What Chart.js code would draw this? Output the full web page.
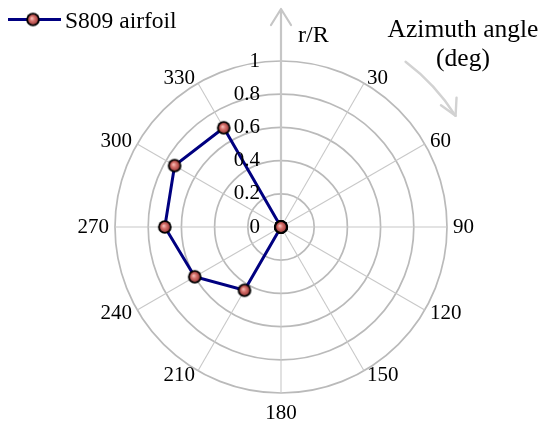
<!DOCTYPE html>
<html>
<head>
<meta charset="utf-8">
<script src="https://cdn.jsdelivr.net/npm/chart.js@4.4.1/dist/chart.umd.min.js"></script>
<style>
  html, body { margin: 0; padding: 0; background: #fff; }
  canvas { display: block; }
</style>
</head>
<body>
<canvas id="polarChart" width="542" height="425"></canvas>
<script>
// --- DATA ---
const angleLabels = ['0', '30', '60', '90', '120', '150', '180', '210', '240', '270', '300', '330'];
const radiusValues = [0, 0, 0, 0, 0, 0, 0, 0.44, 0.60, 0.70, 0.74, 0.69];
const radialTicks = [0, 0.2, 0.4, 0.6, 0.8, 1];
const radialTickLabels = ['0', '0.2', '0.4', '0.6', '0.8', '1'];
const seriesName = 'S809 airfoil';

const SERIF = '"Liberation Serif", "Times New Roman", serif';

// small shaded ball used as the point marker
function makeMarker() {
    const c = document.createElement('canvas');
    c.width = 16;
    c.height = 16;
    const g = c.getContext('2d');
    g.beginPath();
    g.arc(8, 8, 6.8, 0, Math.PI * 2);
    g.fillStyle = '#000';
    g.fill();
    const grad = g.createRadialGradient(6.8, 6.8, 0.4, 8, 8, 5.2);
    grad.addColorStop(0, '#f4bcb6');
    grad.addColorStop(0.45, '#d66f69');
    grad.addColorStop(1, '#9e3e3e');
    g.beginPath();
    g.arc(8, 8, 4.9, 0, Math.PI * 2);
    g.fillStyle = grad;
    g.fill();
    return c;
}
const marker = makeMarker();

// arrows, labels and legend around the polar grid
const polarDecor = {
    id: 'polarDecor',
    beforeDatasetsDraw(chart) {
        const s = chart.scales.r;
        const ctx = chart.ctx;
        const xc = s.xCenter, yc = s.yCenter;
        ctx.save();
        ctx.lineCap = 'round';
        ctx.lineJoin = 'round';

        // vertical r/R axis with arrow
        ctx.strokeStyle = '#c6c6c6';
        ctx.lineWidth = 2.2;
        ctx.beginPath();
        ctx.moveTo(xc, yc);
        ctx.lineTo(xc, 9);
        ctx.moveTo(xc - 10, 25);
        ctx.lineTo(xc, 9);
        ctx.lineTo(xc + 10, 25);
        ctx.stroke();

        // curved azimuth arrow
        const R = 207;
        const a0 = -Math.PI / 2 + 37 * Math.PI / 180;
        const a1 = -Math.PI / 2 + 57.5 * Math.PI / 180;
        ctx.strokeStyle = '#d2d2d2';
        ctx.lineWidth = 2.4;
        ctx.beginPath();
        ctx.arc(xc, yc, R, a0, a1);
        ctx.stroke();
        const tx = xc + R * Math.cos(a1), ty = yc + R * Math.sin(a1);
        const back = Math.atan2(-Math.cos(a1), Math.sin(a1)) + 0.12;
        ctx.beginPath();
        ctx.moveTo(tx + 18 * Math.cos(back - 0.5), ty + 18 * Math.sin(back - 0.5));
        ctx.lineTo(tx, ty);
        ctx.lineTo(tx + 18 * Math.cos(back + 0.5), ty + 18 * Math.sin(back + 0.5));
        ctx.stroke();
        ctx.restore();
    },
    afterDraw(chart) {
        const s = chart.scales.r;
        const ctx = chart.ctx;
        const xc = s.xCenter, yc = s.yCenter;
        ctx.save();
        ctx.fillStyle = '#000';

        // radial tick labels along the vertical axis
        ctx.font = '21px ' + SERIF;
        ctx.textAlign = 'right';
        ctx.textBaseline = 'middle';
        radialTicks.forEach((v, i) => {
            const y = yc - s.getDistanceFromCenterForValue(v);
            ctx.fillText(radialTickLabels[i], xc - 21, y);
        });

        // azimuth labels
        angleLabels.forEach((lab, i) => {
            const ang = Number(lab);
            if (ang === 0) return;
            const p = s.getPointPosition(i, s.drawingArea + 6);
            let y = p.y;
            if (ang === 180) {
                ctx.textAlign = 'center';
                y += 14;
            } else if (ang < 180) {
                ctx.textAlign = 'left';
            } else {
                ctx.textAlign = 'right';
            }
            ctx.fillText(lab, p.x, y);
        });

        // annotations
        ctx.textBaseline = 'alphabetic';
        ctx.font = '24px ' + SERIF;
        ctx.textAlign = 'left';
        ctx.fillText('r/R', 298, 41.5);
        ctx.font = '25.5px ' + SERIF;
        ctx.textAlign = 'center';
        ctx.fillText('Azimuth angle', 463, 37);
        ctx.fillText('(deg)', 463, 66);

        // legend
        ctx.strokeStyle = '#000080';
        ctx.lineWidth = 3;
        ctx.beginPath();
        ctx.moveTo(8, 19.5);
        ctx.lineTo(61, 19.5);
        ctx.stroke();
        ctx.drawImage(marker, 33 - 8, 19.5 - 8);
        ctx.font = '23.5px ' + SERIF;
        ctx.textAlign = 'left';
        ctx.fillText(seriesName, 65, 28);
        ctx.restore();
    }
};

let ctx = document.getElementById('polarChart').getContext('2d');

let chart = new Chart(ctx, {
    type: 'radar',
    data: {
        labels: angleLabels,
        datasets: [{
            label: seriesName,
            data: radiusValues,
            borderColor: '#000080',
            borderWidth: 3,
            fill: false,
            tension: 0,
            pointStyle: marker,
            pointRadius: 7,
            pointHoverRadius: 7
        }]
    },
    options: {
        responsive: false,
        devicePixelRatio: 1,
        animation: false,
        layout: {
            padding: { top: 61, bottom: 32, left: 115, right: 95 }
        },
        scales: {
            r: {
                min: 0,
                max: 1,
                ticks: { stepSize: 0.2, display: false },
                pointLabels: { display: false },
                grid: { circular: true, color: '#bababa', lineWidth: 1.7 },
                angleLines: { color: '#c8c8c8', lineWidth: 1.1 }
            }
        },
        plugins: {
            legend: { display: false },
            tooltip: { enabled: false }
        }
    },
    plugins: [polarDecor]
});
</script>
</body>
</html>
